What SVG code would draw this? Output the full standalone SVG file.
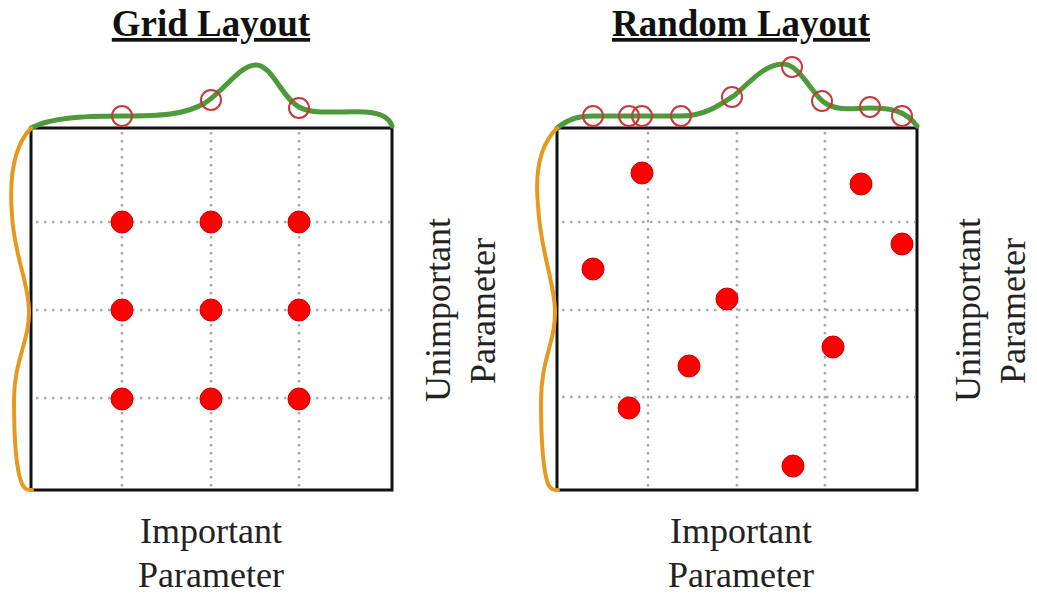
<svg xmlns="http://www.w3.org/2000/svg" width="1037" height="604" viewBox="0 0 1037 604">
<style>
.title{font-family:"Liberation Serif","Times New Roman",serif;font-weight:bold;font-size:37px;fill:#111;text-anchor:middle;text-decoration:underline}
.lbl{font-family:"Liberation Serif","Times New Roman",serif;font-size:36px;fill:#222;text-anchor:middle}
.box{fill:#fff;stroke:#111;stroke-width:3}
.grid{stroke:#aaa;stroke-width:2.5;stroke-dasharray:2.5 5.5;fill:none}
.dot{fill:#f00;stroke:#c00;stroke-width:1}
.ring{fill:none;stroke:#c9383a;stroke-width:2}
.green{fill:none;stroke:#4e9a3a;stroke-width:5;stroke-linecap:round}
.orange{fill:none;stroke:#e59a1f;stroke-width:4;stroke-linecap:round}
</style>
<rect width="1037" height="604" fill="#fff"/>
<g id="grid-layout">
<text class="title" x="211" y="36">Grid Layout</text>
<rect class="box" x="31" y="128" width="361" height="362"/>
<path class="grid" d="M122,132V488M211,132V488M299,132V488M36,222H390M36,310H390M36,398H390"/>
<path class="green" d="M31,128 C50,118 80,116 122,116 C160,116 185,115 205,103 C225,90 240,65 256,65 C272,65 282,98 299,107 C312,115 340,111 365,112 C385,113 390,120 392,126"/>
<path class="orange" d="M31,128 C10,150 10,190 12,215 C14,255 28,280 29,310 C30,340 14,360 14,400 C14,440 16,470 22,484 C25,490 28,490 32,490"/>
<circle class="ring" cx="122" cy="116" r="10"/>
<circle class="ring" cx="211" cy="100" r="10"/>
<circle class="ring" cx="299" cy="108" r="10"/>
<circle class="dot" cx="122" cy="222" r="11"/>
<circle class="dot" cx="211" cy="222" r="11"/>
<circle class="dot" cx="299" cy="222" r="11"/>
<circle class="dot" cx="122" cy="310" r="11"/>
<circle class="dot" cx="211" cy="310" r="11"/>
<circle class="dot" cx="299" cy="310" r="11"/>
<circle class="dot" cx="122" cy="399" r="11"/>
<circle class="dot" cx="211" cy="399" r="11"/>
<circle class="dot" cx="299" cy="399" r="11"/>
<text class="lbl" x="211" y="543">Important</text>
<text class="lbl" x="211" y="587">Parameter</text>
<text class="lbl" transform="translate(450,310) rotate(-90)">Unimportant</text>
<text class="lbl" transform="translate(495,311) rotate(-90)">Parameter</text>
</g>
<g id="random-layout">
<text class="title" x="741" y="36">Random Layout</text>
<rect class="box" x="557" y="128" width="360" height="362"/>
<path class="grid" d="M648,132V488M737,132V488M825,132V488M562,222H915M562,310H915M562,397H915"/>
<path class="green" d="M557,128 C570,118 580,116 593,116 L681,116 C705,116 720,105 735,95 C750,82 765,64 783,64 C800,64 812,95 825,103 C840,112 855,108 870,108 C890,108 905,110 917,126"/>
<path class="orange" d="M557,128 C535,150 536,185 538,205 C540,250 554,280 555,310 C556,340 541,360 541,400 C541,440 543,470 548,484 C551,490 554,490 558,490"/>
<circle class="ring" cx="593" cy="116" r="10"/>
<circle class="ring" cx="629" cy="116" r="10"/>
<circle class="ring" cx="642" cy="116" r="10"/>
<circle class="ring" cx="681" cy="116" r="10"/>
<circle class="ring" cx="732" cy="97" r="10"/>
<circle class="ring" cx="792" cy="67" r="10"/>
<circle class="ring" cx="822" cy="101" r="10"/>
<circle class="ring" cx="870" cy="107" r="10"/>
<circle class="ring" cx="902" cy="116" r="10"/>
<circle class="dot" cx="642" cy="173" r="11"/>
<circle class="dot" cx="861" cy="184" r="11"/>
<circle class="dot" cx="902" cy="244" r="11"/>
<circle class="dot" cx="593" cy="269" r="11"/>
<circle class="dot" cx="727" cy="299" r="11"/>
<circle class="dot" cx="833" cy="347" r="11"/>
<circle class="dot" cx="689" cy="366" r="11"/>
<circle class="dot" cx="629" cy="408" r="11"/>
<circle class="dot" cx="793" cy="466" r="11"/>
<text class="lbl" x="741" y="543">Important</text>
<text class="lbl" x="741" y="587">Parameter</text>
<text class="lbl" transform="translate(980,310) rotate(-90)">Unimportant</text>
<text class="lbl" transform="translate(1025,311) rotate(-90)">Parameter</text>
</g>
</svg>
